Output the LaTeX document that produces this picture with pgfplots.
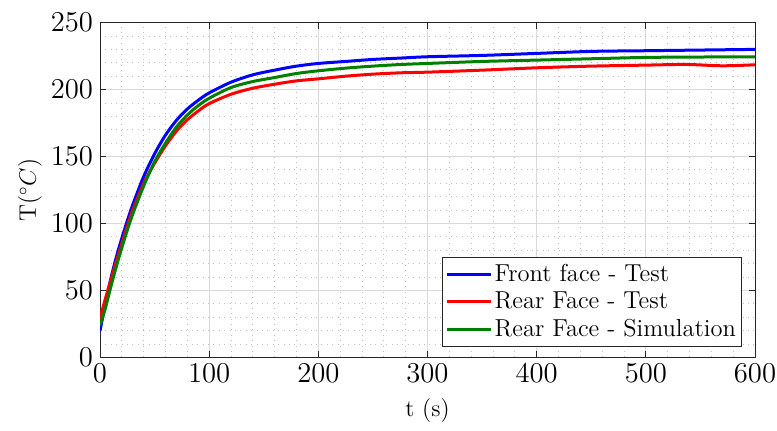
\documentclass[border=0pt]{standalone}
\usepackage{pgfplots}
\pgfplotsset{compat=1.18}
\definecolor{mgreen}{rgb}{0,0.5,0}
\definecolor{axgray}{rgb}{0.15,0.15,0.15}
\begin{document}
\begin{tikzpicture}
\begin{axis}[
  scale only axis, width=327.5bp, height=167.4bp,
  xmin=0, xmax=600, ymin=0, ymax=250,
  xtick={0,100,...,600}, ytick={0,50,...,250},
  minor x tick num=4, minor y tick num=4,
  grid=both,
  major grid style={gray!30, line width=0.4bp},
  minor grid style={gray!50, line width=0.45bp, dash pattern=on 0.5bp off 2.2bp},
  axis line style={axgray, line width=0.5bp},
  tick style={axgray, line width=0.5bp},
  major tick length=3bp, minor tick length=0bp,
  tick align=inside,
  ticklabel style={font=\fontsize{14}{16}\selectfont},
  xlabel={t (s)}, ylabel={T($^\circ C$)},
  label style={font=\fontsize{12}{14}\selectfont},
  xlabel style={at={(axis description cs:0.5,-0.16)}, anchor=center},
  ylabel style={at={(axis description cs:-0.107,0.5)}, anchor=center},
  legend style={at={(1,0)}, anchor=south east, xshift=-6.5bp, yshift=5.3bp,
    draw=axgray, line width=0.5bp, fill=white, inner xsep=1.5bp, inner ysep=1.5bp,
    font=\fontsize{12.3}{14}\selectfont,
    nodes={inner xsep=1.25bp, inner ysep=1.9bp}, row sep=0bp},
  legend cell align=left,
  legend image code/.code={\draw[#1] (0bp,0bp) -- (22bp,0bp);},
  every axis plot/.append style={line width=1.5bp, smooth, tension=0.5},
]
\addplot[blue] coordinates {
(0,20) (5,40) (10,59) (15,75) (20,89) (25,102) (30,114) (40,135) (50,152)
(60,166) (70,177) (80,185.5) (90,192) (100,197.5) (120,205.5) (140,211)
(160,214.5) (180,217.5) (200,219.5) (225,221) (250,222.5) (275,223.5)
(300,224.5) (350,225.5) (400,227) (450,228.5) (500,229) (550,229.5) (600,230)
};
\addlegendentry{Front face - Test}
\addplot[red] coordinates {
(0,29) (5,44) (10,58) (15,72) (20,85) (25,98) (30,110) (40,130) (50,145)
(60,158) (70,169) (80,177.5) (90,184) (100,189.5) (120,196.5) (140,201)
(160,204) (180,206.5) (200,208) (225,210) (250,211.5) (275,212.5)
(300,213) (350,214.5) (400,216.25) (450,217.5) (500,218.25) (537,218.75)
(570,217.75) (600,218.5)
};
\addlegendentry{Rear Face - Test}
\addplot[mgreen] coordinates {
(0,24) (5,37) (10,53) (15,68) (20,82) (25,95) (30,107) (40,128) (50,146)
(60,160) (70,172) (80,181) (90,188) (100,193.5) (120,201.5) (140,206)
(160,209) (180,212) (200,214) (225,216) (250,217.5) (275,218.7)
(300,219.5) (350,221) (400,222) (450,223) (500,224) (550,224.3) (600,224.5)
};
\addlegendentry{Rear Face - Simulation}
\end{axis}
\pgfresetboundingbox
\path ([shift={(-50bp,-36.35bp)}]current axis.south west) rectangle ([shift={(11bp,11.3bp)}]current axis.north east);
\end{tikzpicture}
\end{document}
